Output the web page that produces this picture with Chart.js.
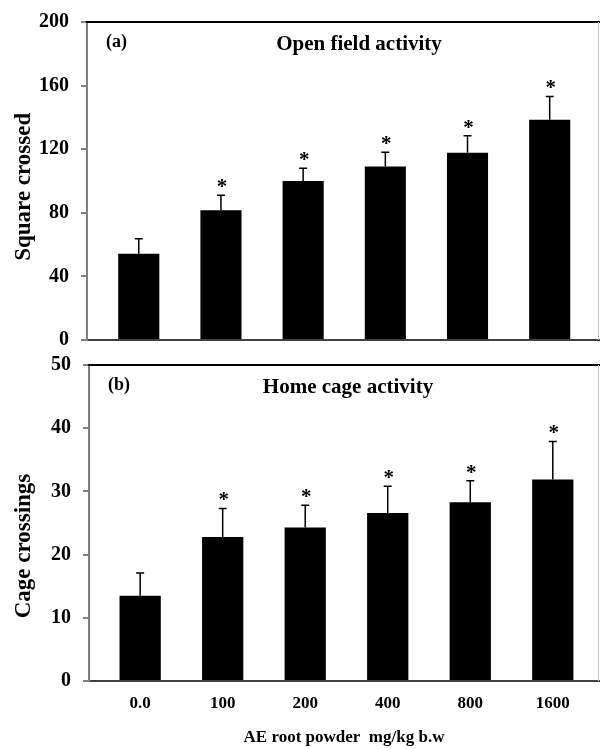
<!DOCTYPE html>
<html>
<head>
<meta charset="utf-8">
<script src="https://cdn.jsdelivr.net/npm/chart.js@4"></script>
<style>
  body { margin: 0; background: #fff; }
  #wrap { position: relative; width: 600px; height: 749px; }
  #c1 { position: absolute; left: 0; top: 0; }
  #c2 { position: absolute; left: 0; top: 350px; }
</style>
</head>
<body>
<div id="wrap">
  <canvas id="c1" width="600" height="350"></canvas>
  <canvas id="c2" width="600" height="399"></canvas>
</div>
<script>
// doses (x categories)
const categories = ["0.0", "100", "200", "400", "800", "1600"];

// (a) open field activity: mean and upper error
const openMeans = [54.3, 81.6, 100, 109.1, 117.7, 138.5];
const openErr = [9.4, 9.4, 8, 9, 10.7, 14.7];
const openTicks = [0, 40, 80, 120, 160, 200];

// (b) home cage activity
const cageMeans = [13.5, 22.8, 24.3, 26.6, 28.3, 31.9];
const cageErr = [3.6, 4.5, 3.5, 4.2, 3.4, 6.0];
const cageTicks = [0, 10, 20, 30, 40, 50];

// * marks
const significant = [false, true, true, true, true, true];

const serif = "'Liberation Serif', 'Times New Roman', serif";

// error bars, stars, frame and panel texts
const panelPlugin = {
    id: 'panel',
    afterDatasetsDraw(chart, args, opts) {
        const ctx = chart.ctx;
        const x = chart.scales.x, y = chart.scales.y;
        const area = chart.chartArea;
        ctx.save();

        // top frame line + light right line
        ctx.strokeStyle = '#000';
        ctx.lineWidth = 2;
        ctx.beginPath();
        ctx.moveTo(area.left - 1, area.top);
        ctx.lineTo(chart.width, area.top);
        ctx.stroke();
        ctx.strokeStyle = '#c8c8c8';
        ctx.lineWidth = 1;
        ctx.beginPath();
        ctx.moveTo(area.right - 0.5, area.top);
        ctx.lineTo(area.right - 0.5, area.bottom);
        ctx.stroke();

        ctx.strokeStyle = '#000';
        ctx.fillStyle = '#000';
        ctx.lineWidth = 1.5;
        opts.means.forEach((m, i) => {
            const px = x.getPixelForValue(i);
            const yBar = y.getPixelForValue(m);
            const yTop = y.getPixelForValue(m + opts.err[i]);
            ctx.beginPath();
            ctx.moveTo(px, yBar);
            ctx.lineTo(px, yTop);
            ctx.moveTo(px - 4, yTop);
            ctx.lineTo(px + 4, yTop);
            ctx.stroke();
            if (significant[i]) {
                ctx.font = "bold 21px " + serif;
                ctx.textAlign = 'center';
                ctx.textBaseline = 'alphabetic';
                ctx.fillText('*', px + 1, yTop - 2);
            }
        });

        ctx.font = "bold 18px " + serif;
        ctx.textAlign = 'left';
        ctx.textBaseline = 'middle';
        ctx.fillText(opts.tag, area.left + 19, area.top + 20);
        ctx.font = "bold 21px " + serif;
        ctx.textAlign = 'center';
        ctx.fillText(opts.title, area.left + opts.titleDx, area.top + 23);
        ctx.restore();
    }
};

function makeChart(el, cfg) {
    return new Chart(el, {
        type: 'bar',
        data: {
            datasets: [{
                data: cfg.means.map((v, i) => ({ x: i, y: v })),
                backgroundColor: '#000',
                borderWidth: 0,
                barPercentage: 0.5,
                categoryPercentage: 1
            }]
        },
        options: {
            responsive: false,
            animation: false,
            layout: { padding: { top: cfg.padTop, right: 1, left: 0, bottom: 0 } },
            plugins: {
                legend: { display: false },
                tooltip: { enabled: false },
                panel: { means: cfg.means, err: cfg.err, tag: cfg.tag, title: cfg.title, titleDx: cfg.titleDx }
            },
            scales: {
                x: {
                    type: 'linear',
                    offset: false,
                    min: cfg.xMin,
                    max: cfg.xMax,
                    afterBuildTicks: s => { s.ticks = categories.map((c, i) => ({ value: i })); },
                    afterFit: s => { s.height = cfg.xHeight; },
                    grid: { display: false, drawTicks: false },
                    border: { display: true, color: '#404040', width: 2 },
                    ticks: {
                        display: cfg.showX,
                        padding: 12,
                        color: '#000',
                        font: { family: serif, size: 17, weight: 'bold' },
                        callback: v => categories[v]
                    },
                    title: {
                        display: cfg.showX,
                        text: 'AE root powder  mg/kg b.w',
                        color: '#000',
                        padding: { top: 0, bottom: 1 },
                        font: { family: serif, size: 17, weight: 'bold' }
                    }
                },
                y: {
                    min: cfg.ticks[0],
                    max: cfg.ticks[cfg.ticks.length - 1],
                    afterBuildTicks: s => { s.ticks = cfg.ticks.map(v => ({ value: v })); },
                    afterFit: s => {
                        s.width = cfg.yWidth;
                        s.paddingTop = 0;
                        s.paddingBottom = 0;
                    },
                    grid: { drawOnChartArea: false, tickLength: 6, color: '#808080', lineWidth: 2 },
                    border: { display: true, color: '#808080', width: 2 },
                    ticks: {
                        padding: 12,
                        color: '#000',
                        font: { family: serif, size: 20, weight: 'bold' }
                    },
                    title: {
                        display: true,
                        text: cfg.yTitle,
                        color: '#000',
                        padding: { top: 10, bottom: 0 },
                        font: { family: serif, size: 23, weight: 'bold' }
                    }
                }
            }
        },
        plugins: [panelPlugin]
    });
}

makeChart(document.getElementById('c1'), {
    means: openMeans, err: openErr, ticks: openTicks,
    tag: '(a)', title: 'Open field activity', titleDx: 272,
    yTitle: 'Square crossed  ', yWidth: 87, xHeight: 10, showX: false,
    padTop: 22, xMin: -0.63, xMax: 5.6
});

makeChart(document.getElementById('c2'), {
    means: cageMeans, err: cageErr, ticks: cageTicks,
    tag: '(b)', title: 'Home cage activity', titleDx: 259,
    yTitle: 'Cage crossings        ', yWidth: 89, xHeight: 68, showX: true,
    padTop: 15, xMin: -0.62, xMax: 5.56
});
</script>
</body>
</html>
